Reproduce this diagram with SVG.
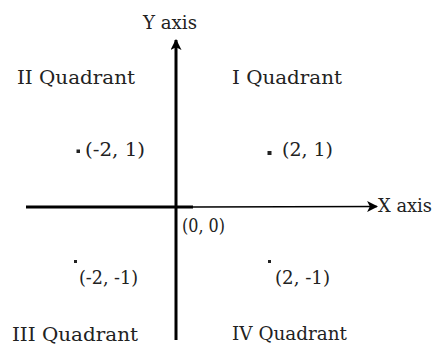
<svg xmlns="http://www.w3.org/2000/svg" width="435" height="347" viewBox="0 0 435 347">
<style>
  text { font-family: "DejaVu Serif", "Liberation Serif", serif; font-size: 18px; fill: #222; }
  .axis { stroke: #000; fill: none; }
  .dot { fill: #222; }
</style>
<defs>
  <marker id="arrow" viewBox="0 0 10 10" refX="9" refY="5" markerWidth="11" markerHeight="11" markerUnits="userSpaceOnUse" orient="auto">
    <path d="M0,0 L10,5 L0,10 L2.5,5 Z" fill="#000"/>
  </marker>
</defs>
<rect width="435" height="347" fill="#fff"/>
<g id="connectors">
  <line class="axis" x1="176" y1="340" x2="176" y2="40" stroke-width="3" marker-end="url(#arrow)"/>
  <line class="axis" x1="26" y1="207" x2="193" y2="207" stroke-width="3"/>
  <line class="axis" x1="193" y1="207" x2="377" y2="206.5" stroke-width="1.5" marker-end="url(#arrow)"/>
</g>
<g id="y-axis-label"><text x="143" y="29" textLength="54" lengthAdjust="spacingAndGlyphs">Y axis</text></g>
<g id="x-axis-label"><text x="378" y="212" textLength="54" lengthAdjust="spacingAndGlyphs">X axis</text></g>
<g id="quadrant-2"><text x="17" y="84" textLength="118" lengthAdjust="spacingAndGlyphs">II Quadrant</text></g>
<g id="quadrant-1"><text x="232" y="84" textLength="110" lengthAdjust="spacingAndGlyphs">I Quadrant</text></g>
<g id="quadrant-3"><text x="12" y="341" textLength="126" lengthAdjust="spacingAndGlyphs">III Quadrant</text></g>
<g id="quadrant-4"><text x="232" y="340" textLength="115" lengthAdjust="spacingAndGlyphs">IV Quadrant</text></g>
<g id="point-m2-1">
  <rect class="dot" x="76.5" y="149.5" width="3.5" height="3.5"/>
  <text x="85" y="156" textLength="60" lengthAdjust="spacingAndGlyphs">(-2, 1)</text>
</g>
<g id="point-2-1">
  <rect class="dot" x="267.5" y="151" width="4" height="4"/>
  <text x="282" y="156" textLength="51" lengthAdjust="spacingAndGlyphs">(2, 1)</text>
</g>
<g id="point-m2-m1">
  <rect class="dot" x="74" y="260" width="3" height="3"/>
  <text x="79" y="284" textLength="59" lengthAdjust="spacingAndGlyphs">(-2, -1)</text>
</g>
<g id="point-2-m1">
  <rect class="dot" x="268" y="260" width="3" height="3"/>
  <text x="275" y="284" textLength="55" lengthAdjust="spacingAndGlyphs">(2, -1)</text>
</g>
<g id="origin"><text x="182" y="232" textLength="43" lengthAdjust="spacingAndGlyphs">(0, 0)</text></g>
</svg>
